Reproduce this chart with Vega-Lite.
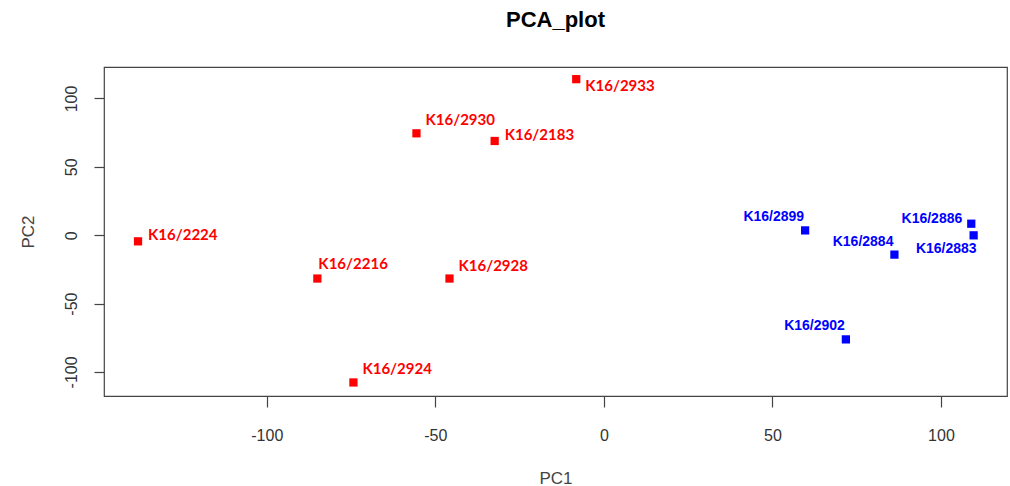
{
  "$schema": "https://vega.github.io/schema/vega-lite/v6.json",
  "autosize": {"type": "none"},
  "width": 903,
  "height": 329,
  "padding": {"left": 104, "top": 67, "right": 3, "bottom": 90},
  "background": "white",
  "title": {"text": "PCA_plot", "fontSize": 22, "font": "Liberation Sans", "fontWeight": "bold", "color": "#000000", "offset": 35, "anchor": "middle"},
  "config": {
    "view": {"stroke": "#444444", "strokeWidth": 1.2},
    "axis": {"grid": false, "domain": false, "tickColor": "#444444", "tickWidth": 1.2, "labelFont": "Liberation Sans", "labelFontSize": 16, "labelColor": "#333333", "titleFont": "Liberation Sans", "titleFontSize": 17, "titleColor": "#444444", "titleFontWeight": "normal", "labelExpr": "toString(datum.value)"}
  },
  "data": {"values": [
    {"name": "K16/2933", "PC1": -8.2, "PC2": 114.1, "group": "A"},
    {"name": "K16/2930", "PC1": -55.6, "PC2": 74.5, "group": "A"},
    {"name": "K16/2183", "PC1": -32.4, "PC2": 68.9, "group": "A"},
    {"name": "K16/2224", "PC1": -138.2, "PC2": -4.5, "group": "A"},
    {"name": "K16/2216", "PC1": -85.0, "PC2": -31.7, "group": "A"},
    {"name": "K16/2928", "PC1": -45.8, "PC2": -31.7, "group": "A"},
    {"name": "K16/2924", "PC1": -74.3, "PC2": -107.7, "group": "A"},
    {"name": "K16/2899", "PC1": 59.7, "PC2": 3.5, "group": "B"},
    {"name": "K16/2886", "PC1": 109.0, "PC2": 8.4, "group": "B"},
    {"name": "K16/2883", "PC1": 109.7, "PC2": -0.1, "group": "B"},
    {"name": "K16/2884", "PC1": 86.2, "PC2": -14.2, "group": "B"},
    {"name": "K16/2902", "PC1": 71.8, "PC2": -76.2, "group": "B"}
  ]},
  "encoding": {
    "x": {"field": "PC1", "type": "quantitative", "scale": {"domain": [-148.3, 119.6], "nice": false, "zero": false},
          "axis": {"values": [-100, -50, 0, 50, 100], "tickSize": 11, "labelPadding": 20, "labelBaseline": "top", "title": "PC1", "titlePadding": 27}},
    "y": {"field": "PC2", "type": "quantitative", "scale": {"domain": [-117.6, 123], "nice": false, "zero": false},
          "axis": {"values": [-100, -50, 0, 50, 100], "tickSize": 10, "labelAngle": 270, "labelAlign": "center", "labelBaseline": "alphabetic", "labelPadding": 18, "title": "PC2", "titlePadding": 26}},
    "color": {"field": "group", "type": "nominal", "scale": {"domain": ["A", "B"], "range": ["#FF0000", "#0000FF"]}, "legend": null}
  },
  "layer": [
    {"mark": {"type": "point", "shape": "square", "filled": true, "size": 68, "opacity": 1}},
    {"transform": [{"filter": {"field": "name", "oneOf": ["K16/2930", "K16/2924", "K16/2928"]}}],
     "mark": {"type": "text", "align": "left", "baseline": "middle", "dx": 9, "dy": -13, "font": "Lato", "fontWeight": "bold", "fontSize": 15},
     "encoding": {"text": {"field": "name"}}},
    {"transform": [{"filter": {"field": "name", "oneOf": ["K16/2216"]}}],
     "mark": {"type": "text", "align": "left", "baseline": "middle", "dx": 1, "dy": -15, "font": "Lato", "fontWeight": "bold", "fontSize": 15},
     "encoding": {"text": {"field": "name"}}},
    {"transform": [{"filter": {"field": "name", "oneOf": ["K16/2183", "K16/2224"]}}],
     "mark": {"type": "text", "align": "left", "baseline": "middle", "dx": 10, "dy": -6, "font": "Lato", "fontWeight": "bold", "fontSize": 15},
     "encoding": {"text": {"field": "name"}}},
    {"transform": [{"filter": {"field": "name", "oneOf": ["K16/2933"]}}],
     "mark": {"type": "text", "align": "left", "baseline": "middle", "dx": 9, "dy": 7, "font": "Lato", "fontWeight": "bold", "fontSize": 15},
     "encoding": {"text": {"field": "name"}}},
    {"transform": [{"filter": {"field": "name", "oneOf": ["K16/2899", "K16/2884", "K16/2902"]}}],
     "mark": {"type": "text", "align": "right", "baseline": "middle", "dx": -1, "dy": -13, "font": "Liberation Sans", "fontWeight": "bold", "fontSize": 14},
     "encoding": {"text": {"field": "name"}}},
    {"transform": [{"filter": {"field": "name", "oneOf": ["K16/2886"]}}],
     "mark": {"type": "text", "align": "right", "baseline": "middle", "dx": -9, "dy": -5, "font": "Liberation Sans", "fontWeight": "bold", "fontSize": 14},
     "encoding": {"text": {"field": "name"}}},
    {"transform": [{"filter": {"field": "name", "oneOf": ["K16/2883"]}}],
     "mark": {"type": "text", "align": "right", "baseline": "middle", "dx": 3, "dy": 14, "font": "Liberation Sans", "fontWeight": "bold", "fontSize": 14},
     "encoding": {"text": {"field": "name"}}}
  ]
}
